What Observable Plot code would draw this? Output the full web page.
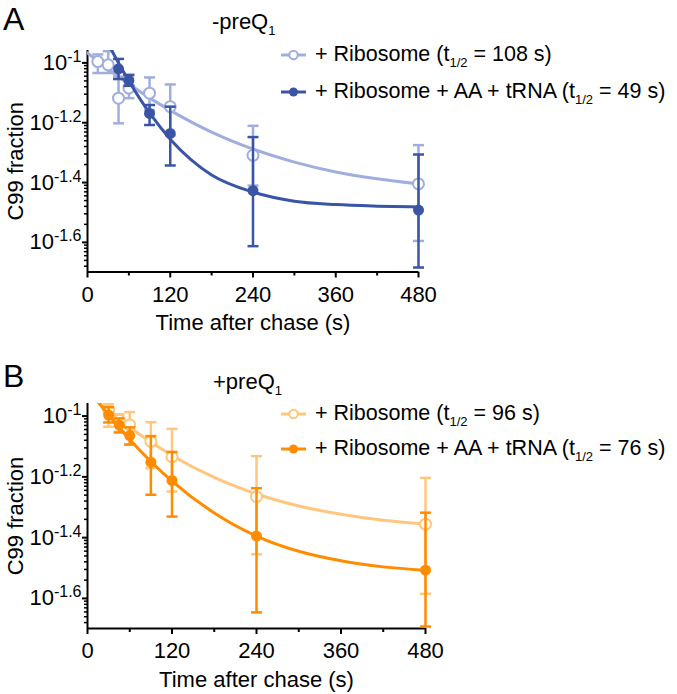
<!DOCTYPE html>
<html><head><meta charset="utf-8">
<script src="https://cdn.jsdelivr.net/npm/d3@7"></script>
<script src="https://cdn.jsdelivr.net/npm/@observablehq/plot@0.6"></script>
<style>
body{margin:0;background:#fff;}
#wrap{position:relative;width:677px;height:694px;font-family:"Liberation Sans",Arial,sans-serif;color:#000;overflow:hidden;}
.abs{position:absolute;white-space:nowrap;}
.panel{font-size:32px;line-height:32px;}
.title{font-size:22px;line-height:22px;}
.sub{font-size:13px;position:relative;top:6px;}
.leg{position:absolute;left:280px;height:24px;display:flex;align-items:center;font-size:21.5px;line-height:24px;white-space:nowrap;}
.leg svg{margin-right:8px;flex:none;}
#wrap > svg{position:absolute;left:0;}
</style></head>
<body><div id="wrap"></div>
<script>
// ---------- data ----------
const timeTicks = [0, 120, 240, 360, 480];
const timeMinor = [60, 180, 300, 420];
const yMajorExp = [-1, -1.2, -1.4, -1.6];
const seriesNames = ["+ Ribosome", "+ Ribosome + AA + tRNA"];
const halfLivesA = [108, 49];
const halfLivesB = [96, 76];
const panelTitles = ["-preQ", "+preQ"];

// Panel A (-preQ1), + Ribosome
const tA_rib = [15, 30, 45, 60, 90, 120, 240, 480];
const vA_rib = [0.1010, 0.0985, 0.0762, 0.0824, 0.0792, 0.0714, 0.0491, 0.0394];
const loA_rib = [0.0925, 0.0925, 0.0628, 0.0762, 0.0696, 0.0573, 0.0389, 0.0254];
const hiA_rib = [0.1067, 0.1094, 0.0900, 0.0914, 0.0894, 0.0847, 0.0616, 0.0531];
// Panel A, + Ribosome + AA + tRNA
const tA_aa = [45, 60, 90, 120, 240, 480];
const vA_aa = [0.0955, 0.0874, 0.0678, 0.0581, 0.0374, 0.0322];
const loA_aa = [0.0883, 0.0838, 0.0620, 0.0454, 0.0244, 0.0207];
const hiA_aa = [0.1031, 0.0910, 0.0723, 0.0714, 0.0565, 0.0494];
// Panel A fitted curves
const fitA_rib_t = [0, 30, 60, 90, 120, 180, 240, 300, 360, 420, 480];
const fitA_rib_v = [0.1080, 0.0954, 0.0850, 0.0764, 0.0694, 0.0587, 0.0515, 0.0466, 0.0432, 0.0410, 0.0394];
const fitA_aa_t = [35, 45, 60, 90, 120, 150, 180, 240, 300, 360, 420, 480];
const fitA_aa_v = [0.1102, 0.0999, 0.0870, 0.0680, 0.0556, 0.0475, 0.0422, 0.0370, 0.0345, 0.0336, 0.0332, 0.0330];

// Panel B (+preQ1), + Ribosome
const tB_rib = [30, 45, 60, 90, 120, 240, 480];
const vB_rib = [0.1045, 0.0968, 0.0935, 0.0826, 0.0734, 0.0543, 0.0441];
const loB_rib = [0.0922, 0.0888, 0.0806, 0.0675, 0.0565, 0.0351, 0.0260];
const hiB_rib = [0.1094, 0.1013, 0.1031, 0.0955, 0.0908, 0.0738, 0.0626];
// Panel B, + Ribosome + AA + tRNA
const tB_aa = [30, 45, 60, 90, 120, 240, 480];
const vB_aa = [0.1008, 0.0935, 0.0863, 0.0705, 0.0614, 0.0403, 0.0311];
const loB_aa = [0.0953, 0.0883, 0.0806, 0.0551, 0.0467, 0.0226, 0.0203];
const hiB_aa = [0.1069, 0.0983, 0.0918, 0.0859, 0.0762, 0.0579, 0.0481];
// Panel B fitted curves
const fitB_rib_t = [16, 30, 45, 60, 90, 120, 180, 240, 300, 360, 420, 480];
const fitB_rib_v = [0.1107, 0.1040, 0.0976, 0.0919, 0.0821, 0.0742, 0.0628, 0.0554, 0.0506, 0.0475, 0.0454, 0.0441];
const fitB_aa_t = [16, 30, 45, 60, 90, 120, 180, 240, 300, 360, 420, 480];
const fitB_aa_v = [0.1104, 0.1008, 0.0917, 0.0838, 0.0709, 0.0611, 0.0480, 0.0403, 0.0359, 0.0334, 0.0319, 0.0311];

// ---------- helpers ----------
const rows = (t, v, lo, hi) => t.map((d, i) => ({t: d, v: v[i], lo: lo ? lo[i] : undefined, hi: hi ? hi[i] : undefined}));
const yMajor = yMajorExp.map(e => Math.pow(10, e));
const yMinor = [];
[-1.8, -1.6, -1.4, -1.2, -1.0].forEach(a => {
  for (let k = 2; k <= 9; k++) {
    const e = a + 0.2 * Math.log10(k);
    if (e >= Math.log10(0.02) && e <= Math.log10(0.11)) yMinor.push(Math.pow(10, e));
  }
});
const cap = {draw(ctx, size) { const w = Math.sqrt(size / Math.PI); ctx.moveTo(-w, 0); ctx.lineTo(w, 0); }};
const wrap = document.getElementById("wrap");

function makePanel({top, width, height, mL, mR, mT, mB, light, dark, colors}) {
  const [cL, cD] = colors;
  const svg = Plot.plot({
    width, height, marginLeft: mL, marginRight: mR, marginTop: mT, marginBottom: mB,
    style: {fontFamily: "'Liberation Sans', Arial, sans-serif", fontSize: "22px", background: "transparent", overflow: "visible", color: "#000"},
    x: {domain: [0, 480]},
    y: {type: "log", domain: [0.02, 0.11]},
    marks: [
      Plot.axisX({ticks: timeTicks, tickSize: 6, tickPadding: 8, strokeWidth: 2, tickFormat: d => String(d),
        label: "Time after chase (s)", labelAnchor: "center", labelOffset: 58, labelArrow: "none"}),
      Plot.axisX({ticks: timeMinor, tickSize: 4, strokeWidth: 2, fill: "none", label: null}),
      Plot.axisY({ticks: yMajor, tickSize: 5, tickPadding: 1, strokeWidth: 2,
        tickFormat: d => "10^" + String(Math.round(Math.log10(d) * 10) / 10),
        label: "C99 fraction", labelAnchor: "center", labelOffset: 80, labelArrow: "none"}),
      Plot.axisY({ticks: yMinor, tickSize: 3, strokeWidth: 1.5, fill: "none", label: null}),
      Plot.ruleX([0], {strokeWidth: 2}),
      Plot.ruleY([0.02], {strokeWidth: 2}),
      // light series
      Plot.line(light.fit, {x: "t", y: "v", stroke: cL, strokeWidth: 3, curve: "monotone-x", clip: true}),
      Plot.ruleX(light.pts, {x: "t", y1: "lo", y2: "hi", stroke: cL, strokeWidth: 2.5}),
      Plot.dot(light.pts, {x: "t", y: "lo", symbol: cap, r: 5.5, stroke: cL, strokeWidth: 2.5}),
      Plot.dot(light.pts, {x: "t", y: "hi", symbol: cap, r: 5.5, stroke: cL, strokeWidth: 2.5}),
      Plot.dot(light.pts, {x: "t", y: "v", r: 5.5, stroke: cL, fill: "white", strokeWidth: 2}),
      // dark series
      Plot.line(dark.fit, {x: "t", y: "v", stroke: cD, strokeWidth: 3, curve: "monotone-x", clip: true}),
      Plot.ruleX(dark.pts, {x: "t", y1: "lo", y2: "hi", stroke: cD, strokeWidth: 2.5}),
      Plot.dot(dark.pts, {x: "t", y: "lo", symbol: cap, r: 5.5, stroke: cD, strokeWidth: 2.5}),
      Plot.dot(dark.pts, {x: "t", y: "hi", symbol: cap, r: 5.5, stroke: cD, strokeWidth: 2.5}),
      Plot.dot(dark.pts, {x: "t", y: "v", r: 5.5, fill: cD, stroke: "none"})
    ]
  });
  // superscript exponents on y tick labels
  svg.querySelectorAll('g[aria-label="y-axis tick label"] text').forEach(t => {
    const s = t.textContent;
    if (!s.includes("^")) return;
    const [base, exp] = s.split("^");
    t.textContent = base;
    const ts = document.createElementNS("http://www.w3.org/2000/svg", "tspan");
    ts.setAttribute("dy", "-8");
    ts.setAttribute("font-size", "16px");
    ts.textContent = exp;
    t.appendChild(ts);
  });
  svg.style.top = top + "px";
  wrap.appendChild(svg);
}

function addText(cls, left, top, html) {
  const d = document.createElement("div");
  d.className = "abs " + cls;
  d.style.left = left + "px";
  d.style.top = top + "px";
  d.innerHTML = html;
  wrap.appendChild(d);
}

function addLegendRow(top, color, filled, name, half) {
  const d = document.createElement("div");
  d.className = "leg";
  d.style.top = top + "px";
  const circ = filled
    ? `<circle cx="13.5" cy="12" r="4.5" fill="${color}"/>`
    : `<circle cx="13.5" cy="12" r="4.2" fill="white" stroke="${color}" stroke-width="2"/>`;
  d.innerHTML = `<svg width="27" height="24"><line x1="1" x2="26" y1="12" y2="12" stroke="${color}" stroke-width="3"/>${circ}</svg>` +
    `<span>${name} (t<span class="sub">1/2</span> = ${half} s)</span>`;
  wrap.appendChild(d);
}

const colorsA = ["#A0AEDD", "#3A54A6"];
const colorsB = ["#FFC67E", "#FF8C00"];

makePanel({top: 36, width: 440, height: 304, mL: 87, mR: 22, mT: 14, mB: 68.5,
  light: {pts: rows(tA_rib, vA_rib, loA_rib, hiA_rib), fit: rows(fitA_rib_t, fitA_rib_v)},
  dark: {pts: rows(tA_aa, vA_aa, loA_aa, hiA_aa), fit: rows(fitA_aa_t, fitA_aa_v)},
  colors: colorsA});
makePanel({top: 390, width: 450, height: 304, mL: 87, mR: 25, mT: 13, mB: 66,
  light: {pts: rows(tB_rib, vB_rib, loB_rib, hiB_rib), fit: rows(fitB_rib_t, fitB_rib_v)},
  dark: {pts: rows(tB_aa, vB_aa, loB_aa, hiB_aa), fit: rows(fitB_aa_t, fitB_aa_v)},
  colors: colorsB});

addText("panel", 3, 3, "A");
addText("panel", 3, 360, "B");
addText("title", 212, 11, panelTitles[0] + '<span class="sub">1</span>');
addText("title", 213, 371, panelTitles[1] + '<span class="sub">1</span>');

addLegendRow(43, colorsA[0], false, seriesNames[0], halfLivesA[0]);
addLegendRow(80, colorsA[1], true, seriesNames[1], halfLivesA[1]);
addLegendRow(402, colorsB[0], false, seriesNames[0], halfLivesB[0]);
addLegendRow(437, colorsB[1], true, seriesNames[1], halfLivesB[1]);
</script>
</body></html>
